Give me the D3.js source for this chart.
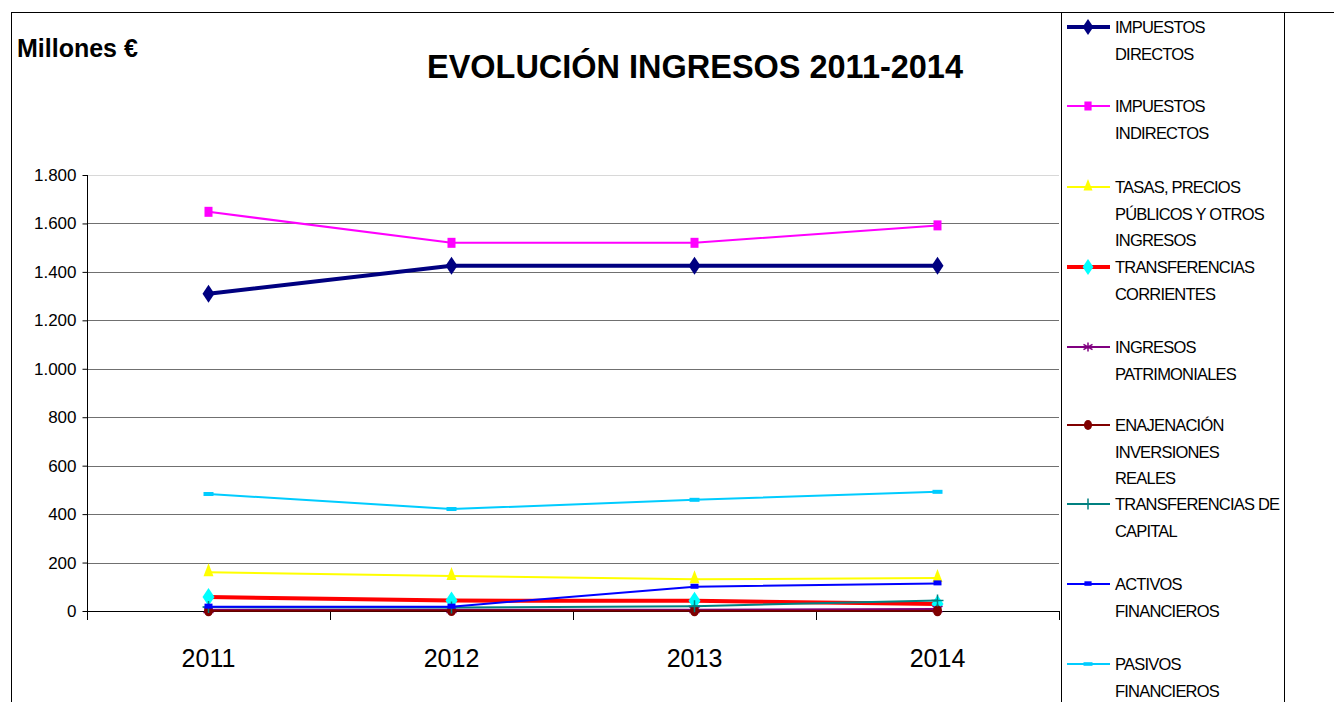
<!DOCTYPE html>
<html><head><meta charset="utf-8">
<script src="https://cdn.jsdelivr.net/npm/d3@7"></script>
<style>body{margin:0;background:#fff}svg{display:block;font-family:"Liberation Sans",Arial,sans-serif}</style>
</head><body>
<svg id="c" width="1334" height="702"></svg>
<script>
const years = ["2011","2012","2013","2014"];
const yTicks = [0,200,400,600,800,1000,1200,1400,1600,1800];
const impuestosDirectos = [1310,1425,1425,1425];
const impuestosIndirectos = [1648,1520,1520,1592];
const tasas = [160,145,131,136];
const transfCorrientes = [58,43,42,29];
const ingPatrimoniales = [5,5,5,8];
const enajenacion = [1,2,1,1];
const transfCapital = [16,14,20,43];
const activosFin = [18,18,100,114];
const pasivosFin = [483,421,459,492];
const seriesNames = [["IMPUESTOS","DIRECTOS"],["IMPUESTOS","INDIRECTOS"],["TASAS, PRECIOS","PÚBLICOS Y OTROS","INGRESOS"],["TRANSFERENCIAS","CORRIENTES"],["INGRESOS","PATRIMONIALES"],["ENAJENACIÓN","INVERSIONES","REALES"],["TRANSFERENCIAS DE","CAPITAL"],["ACTIVOS","FINANCIEROS"],["PASIVOS","FINANCIEROS"]];
const seriesValues = [impuestosDirectos,impuestosIndirectos,tasas,transfCorrientes,ingPatrimoniales,enajenacion,transfCapital,activosFin,pasivosFin];

const styles = [
 {c:"#000080",w:4,m:"diamond",mc:"#000080"},
 {c:"#ff00ff",w:2,m:"square",mc:"#ff00ff"},
 {c:"#ffff00",w:2,m:"triangle",mc:"#ffff00"},
 {c:"#ff0000",w:4,m:"diamond2",mc:"#00ffff"},
 {c:"#800080",w:2,m:"star",mc:"#800080"},
 {c:"#800000",w:2,m:"circle",mc:"#800000"},
 {c:"#008080",w:2,m:"plus",mc:"#008080"},
 {c:"#0000ff",w:2,m:"dash",mc:"#0000ff"},
 {c:"#00ccff",w:2,m:"dash2",mc:"#00ccff"}
];
const svg = d3.select("#c");
// frame
svg.append("line").attr("x1",11.5).attr("x2",11.5).attr("y1",12).attr("y2",702).attr("stroke","#000");
svg.append("line").attr("x1",11).attr("x2",1334).attr("y1",12.5).attr("y2",12.5).attr("stroke","#000");
svg.append("line").attr("x1",1061.5).attr("x2",1061.5).attr("y1",12).attr("y2",702).attr("stroke","#000");
svg.append("line").attr("x1",1284.5).attr("x2",1284.5).attr("y1",12).attr("y2",702).attr("stroke","#000");

const x = d3.scalePoint().domain(years).range([87,1059]).padding(0.5);
const y = d3.scaleLinear().domain([0,1800]).range([611,175]);

// gridlines
svg.append("g").selectAll("line").data(yTicks.slice(1)).join("line")
  .attr("x1",87).attr("x2",1059).attr("y1",d=>Math.round(y(d))+0.5).attr("y2",d=>Math.round(y(d))+0.5)
  .attr("stroke",d=>d===1800?"#d8d8d8":"#707070").attr("stroke-width",1);

// y axis
const ya = svg.append("g").attr("transform","translate(87.5,0)")
  .call(d3.axisLeft(y).tickValues(yTicks).tickSize(5).tickPadding(6).tickFormat(d=>d3.format(",")(d).replace(/,/g,".")));
ya.select(".domain").attr("d","M0,175V620").attr("stroke","#000");
ya.selectAll("text").attr("font-size",17).attr("fill","#000").attr("font-family","Liberation Sans, Arial");
ya.selectAll(".tick line").attr("stroke","#000");

// x axis
const bounds = [87,330,573,816,1059];
svg.append("line").attr("x1",87).attr("x2",1059).attr("y1",611.5).attr("y2",611.5).attr("stroke","#000");
svg.append("g").selectAll("line").data(bounds).join("line")
  .attr("x1",d=>d+0.5).attr("x2",d=>d+0.5).attr("y1",611).attr("y2",620).attr("stroke","#000");
svg.append("g").selectAll("text").data(years).join("text")
  .attr("x",d=>x(d)).attr("y",667).attr("text-anchor","middle").attr("font-size",25).text(d=>d);

function marker(g, type, cx, cy, col, scale){
  scale = scale||1;
  if(type==="diamond"||type==="diamond2"){
    const w=6*scale,h=9*scale;
    g.append("path").attr("d",`M${cx},${cy-h}L${cx+w},${cy}L${cx},${cy+h}L${cx-w},${cy}Z`).attr("fill",col);
  } else if(type==="square"){
    g.append("rect").attr("x",cx-4*scale).attr("y",cy-5*scale).attr("width",8*scale).attr("height",10*scale).attr("fill",col);
  } else if(type==="triangle"){
    g.append("path").attr("d",`M${cx},${cy-9*scale}L${cx+5*scale},${cy+4*scale}L${cx-5*scale},${cy+4*scale}Z`).attr("fill",col);
  } else if(type==="star"){
    const r=5*scale;
    g.append("path").attr("d",`M${cx},${cy-r}V${cy+r}M${cx-r},${cy-r*0.6}L${cx+r},${cy+r*0.6}M${cx-r},${cy+r*0.6}L${cx+r},${cy-r*0.6}`).attr("stroke",col).attr("stroke-width",1.5);
  } else if(type==="circle"){
    g.append("ellipse").attr("cx",cx).attr("cy",cy).attr("rx",4.5*scale).attr("ry",5.5*scale).attr("fill",col);
  } else if(type==="plus"){
    const r=6*scale;
    g.append("path").attr("d",`M${cx},${cy-r}V${cy+r}M${cx-r},${cy}H${cx+r}`).attr("stroke",col).attr("stroke-width",1.5);
  } else if(type==="dash"){
    g.append("rect").attr("x",cx-4*scale).attr("y",cy-3*scale).attr("width",8*scale).attr("height",5*scale).attr("fill",col);
  } else if(type==="dash2"){
    g.append("rect").attr("x",cx-5*scale).attr("y",cy-2*scale).attr("width",10*scale).attr("height",4*scale).attr("fill",col);
  }
}

const line = d3.line().x((d,i)=>x(years[i])).y(d=>y(d));
seriesValues.forEach((vals,si)=>{
  const s=styles[si];
  const g=svg.append("g");
  g.append("path").attr("d",line(vals)).attr("fill","none").attr("stroke",s.c).attr("stroke-width",s.w).attr("stroke-linejoin","round");
  vals.forEach((v,i)=>marker(g,s.m,x(years[i]),y(v),s.mc,1));
});

// titles
svg.append("text").attr("x",695).attr("y",78).attr("text-anchor","middle").attr("font-size",33).attr("font-weight","bold")
  .attr("textLength",536).attr("lengthAdjust","spacingAndGlyphs").text("EVOLUCIÓN INGRESOS 2011-2014");
svg.append("text").attr("x",17).attr("y",57).attr("font-size",25).attr("font-weight","bold").text("Millones €");

// legend
const legY = [27,106,187,267,347,425,504,584,664];
seriesNames.forEach((lines,si)=>{
  const s=styles[si], cy=legY[si];
  const g=svg.append("g");
  g.append("line").attr("x1",1067).attr("x2",1110).attr("y1",cy).attr("y2",cy).attr("stroke",s.c).attr("stroke-width",s.w);
  marker(g,s.m,1088,cy,s.mc,0.9);
  const t=g.append("text").attr("font-size",16.5).attr("letter-spacing","-0.8").attr("fill","#000");
  lines.forEach((l,li)=>t.append("tspan").attr("x",1115).attr("y",cy+6+li*26.7).text(l));
});
</script>
</body></html>
